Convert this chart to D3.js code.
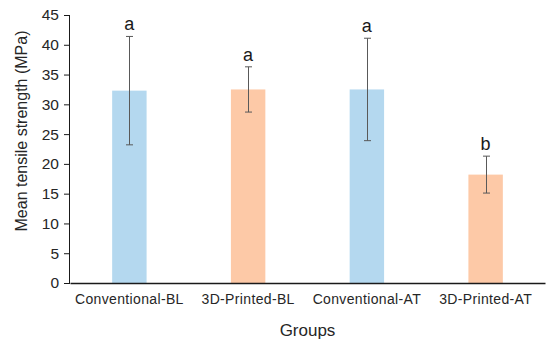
<!DOCTYPE html>
<html>
<head>
<meta charset="utf-8">
<script src="https://cdn.jsdelivr.net/npm/d3@7"></script>
<style>
	body { margin: 0; background: #fff; }
	svg { display: block; font-family: Arial, "Liberation Sans", sans-serif; }
</style>
</head>
<body>
<svg id="chart" width="550" height="345"></svg>
<script>
'use strict';

var groups = ['Conventional-BL', '3D-Printed-BL', 'Conventional-AT', '3D-Printed-AT'];
var means = [32.3, 32.5, 32.5, 18.2];
var errors = [9.1, 3.8, 8.6, 3.1];
var letters = ['a', 'a', 'a', 'b'];
var yTicks = [0, 5, 10, 15, 20, 25, 30, 35, 40, 45];
var barColors = ['#b4d8ef', '#fdc9a7', '#b4d8ef', '#fdc9a7'];

var margin = {top: 15, right: 5, bottom: 62, left: 70};
var svg = d3.select('#chart');
var width = +svg.attr('width') - margin.left - margin.right;
var height = +svg.attr('height') - margin.top - margin.bottom;

var x = d3.scaleBand()
	.domain(groups)
	.range([0, width])
	.paddingInner(0.71)
	.paddingOuter(0.355);
var y = d3.scaleLinear()
	.domain([0, 45])
	.range([height, 0]);

var g = svg.append('g')
	.attr('transform', 'translate(' + margin.left + ',' + margin.top + ')');

var data = groups.map(function(d, i) {
	return {group: d, mean: means[i], err: errors[i], letter: letters[i], color: barColors[i]};
});

// bars
g.selectAll('rect.bar').data(data)
	.enter()
	.append('rect')
		.attr('class', 'bar')
		.attr('x', function(d) { return x(d.group); })
		.attr('width', x.bandwidth())
		.attr('y', function(d) { return y(d.mean); })
		.attr('height', function(d) { return y(0) - y(d.mean); })
		.attr('fill', function(d) { return d.color; })
	;

// error bars
var eb = g.selectAll('g.err').data(data)
	.enter()
	.append('g')
		.attr('class', 'err')
		.attr('transform', function(d) { return 'translate(' + (Math.round(x(d.group) + x.bandwidth()/2) + 0.5) + ',0)'; })
		.attr('stroke', '#595959')
		.attr('stroke-width', 1)
	;
eb.append('line')
	.attr('x1', 0).attr('x2', 0)
	.attr('y1', function(d) { return y(d.mean + d.err); })
	.attr('y2', function(d) { return y(d.mean - d.err); });
eb.append('line')
	.attr('x1', -3.5).attr('x2', 3.5)
	.attr('y1', function(d) { return y(d.mean + d.err); })
	.attr('y2', function(d) { return y(d.mean + d.err); });
eb.append('line')
	.attr('x1', -3.5).attr('x2', 3.5)
	.attr('y1', function(d) { return y(d.mean - d.err); })
	.attr('y2', function(d) { return y(d.mean - d.err); });

// significance letters
g.selectAll('text.letter').data(data)
	.enter()
	.append('text')
		.attr('class', 'letter')
		.attr('x', function(d) { return x(d.group) + x.bandwidth()/2; })
		.attr('y', function(d) { return y(d.mean + d.err) - 6; })
		.attr('text-anchor', 'middle')
		.attr('font-size', '18px')
		.attr('fill', '#1a1a1a')
		.text(function(d) { return d.letter; })
	;

// y axis
var yAxis = g.append('g')
	.call(d3.axisLeft(y).tickValues(yTicks).tickSize(6).tickPadding(5))
	;
yAxis.select('.domain').attr('stroke', '#1a1a1a').attr('d', 'M-0.5,' + y(45) + 'V' + (y(0) + 0.5));
yAxis.selectAll('.tick line').attr('stroke', '#1a1a1a');
yAxis.selectAll('.tick text')
	.attr('font-size', '15.5px')
	.attr('fill', '#262626');

// x axis
var xAxis = g.append('g')
	.attr('transform', 'translate(0,' + height + ')')
	.call(d3.axisBottom(x).tickSize(0).tickPadding(11))
	;
xAxis.select('.domain').attr('stroke', '#1a1a1a').attr('stroke-width', 1.3);
xAxis.selectAll('.tick text')
	.attr('font-size', '14px')
	.attr('letter-spacing', '0.35px')
	.attr('fill', '#262626');

// axis titles
svg.append('text')
	.attr('x', margin.left + width/2)
	.attr('y', 336)
	.attr('text-anchor', 'middle')
	.attr('font-size', '17px')
	.attr('fill', '#262626')
	.text('Groups');

svg.append('text')
	.attr('transform', 'translate(27,131) rotate(-90)')
	.attr('text-anchor', 'middle')
	.attr('font-size', '16px')
	.attr('fill', '#262626')
	.text('Mean tensile strength (MPa)');
</script>
</body>
</html>
